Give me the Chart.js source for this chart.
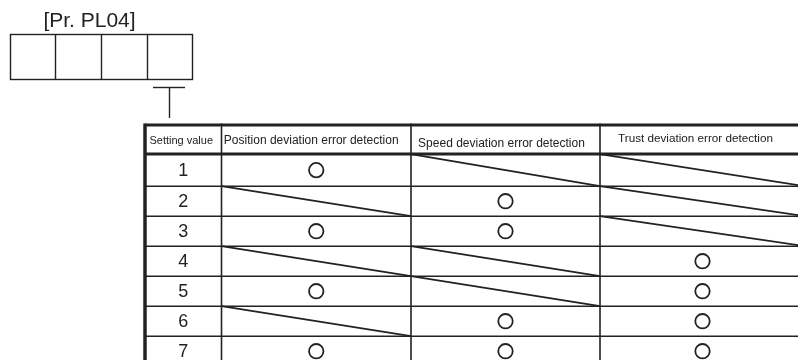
<!DOCTYPE html>
<html>
<head>
<meta charset="utf-8">
<script src="https://cdn.jsdelivr.net/npm/chart.js@4.4.0/dist/chart.umd.min.js"></script>
<style>
html,body{margin:0;padding:0;background:#fff;overflow:hidden}
</style>
</head>
<body>
<canvas id="chart" width="798" height="360"></canvas>
<script>
// data
const paramName = '[Pr. PL04]';
const headers = ['Setting value', 'Position deviation error detection', 'Speed deviation error detection', 'Trust deviation error detection'];
const settingValues = ['1', '2', '3', '4', '5', '6', '7'];
const positionDetect = [1, 0, 1, 0, 1, 0, 1];
const speedDetect = [0, 1, 1, 0, 0, 1, 1];
const trustDetect = [0, 0, 0, 1, 1, 1, 1];

// layout (scale units, not data)
const colEdges = [0, 76.5, 266, 455, 660];
const rowEdges = [0, 0.97, 2.04, 3.04, 4.04, 5.04, 6.04, 7.04, 8.04];
const headerFont = [11, 12, 12, 11.7];
const headerShift = [[-2, 0], [-5, 0], [-4, 3], [-7, -2]];
const FONT = '"Liberation Sans", Arial, sans-serif';
const INK = '#222';

const detectCols = [positionDetect, speedDetect, trustDetect];
const circles = [];
const diagonals = [];
detectCols.forEach((col, c) => {
  col.forEach((v, r) => {
    const x0 = colEdges[c + 1], x1 = colEdges[c + 2];
    const y0 = rowEdges[r + 1], y1 = rowEdges[r + 2];
    if (v) {
      circles.push({x: (x0 + x1) / 2, y: (y0 + y1) / 2});
    } else {
      diagonals.push([{x: x0, y: y0}, {x: x1, y: y1}]);
    }
  });
});

const datasets = diagonals.map(d => ({
  data: d,
  showLine: true,
  borderColor: INK,
  borderWidth: 1.7,
  pointRadius: 0
}));
datasets.push({
  data: circles,
  showLine: false,
  pointRadius: 7.2,
  pointBorderWidth: 1.8,
  pointBorderColor: INK,
  pointBackgroundColor: '#fff'
});

function line(ctx, x0, y0, x1, y1) {
  ctx.beginPath();
  ctx.moveTo(x0, y0);
  ctx.lineTo(x1, y1);
  ctx.stroke();
}

const tablePlugin = {
  id: 'tableFrame',
  beforeDatasetsDraw(chart) {
    const {ctx, chartArea, scales: {x, y}} = chart;
    ctx.save();
    ctx.strokeStyle = INK;
    const left = x.getPixelForValue(0);
    rowEdges.forEach((v, i) => {
      const py = y.getPixelForValue(v);
      ctx.lineWidth = i <= 1 ? 3 : 1.5;
      line(ctx, left, py, chartArea.right, py);
    });
    colEdges.forEach((v, i) => {
      const px = x.getPixelForValue(v);
      ctx.lineWidth = i === 0 ? 3.5 : 1.6;
      line(ctx, px, y.getPixelForValue(0) - 1.5, px, chartArea.bottom);
    });
    ctx.restore();
  },
  afterDraw(chart) {
    const {ctx, scales: {x, y}} = chart;
    ctx.save();
    ctx.fillStyle = INK;
    ctx.textAlign = 'center';
    ctx.textBaseline = 'middle';
    // header cells
    headers.forEach((h, i) => {
      ctx.font = headerFont[i] + 'px ' + FONT;
      const cx = x.getPixelForValue((colEdges[i] + colEdges[i + 1]) / 2) + headerShift[i][0];
      const cy = y.getPixelForValue((rowEdges[0] + rowEdges[1]) / 2) + headerShift[i][1] + 1;
      ctx.fillText(h, cx, cy);
    });
    // setting values
    ctx.font = '18px ' + FONT;
    settingValues.forEach((s, r) => {
      const cx = x.getPixelForValue((colEdges[0] + colEdges[1]) / 2);
      const cy = y.getPixelForValue((rowEdges[r + 1] + rowEdges[r + 2]) / 2) + 1;
      ctx.fillText(s, cx, cy);
    });
    // parameter digit boxes
    ctx.font = '21px ' + FONT;
    ctx.fillText(paramName, 89.5, 21);
    ctx.strokeStyle = INK;
    ctx.lineWidth = 1.4;
    ctx.strokeRect(10.5, 34.5, 182, 45);
    [55.5, 101.5, 147.5].forEach(px => line(ctx, px, 34.5, px, 79.5));
    // connector
    line(ctx, 153, 87.5, 185, 87.5);
    line(ctx, 169.5, 87.5, 169.5, 118);
    ctx.restore();
  }
};

new Chart(document.getElementById('chart'), {
  type: 'scatter',
  data: {datasets},
  options: {
    responsive: false,
    animation: false,
    events: [],
    layout: {autoPadding: false, padding: {left: 145, top: 125, right: 0, bottom: 0}},
    scales: {
      x: {type: 'linear', display: false, min: 0, max: 653},
      y: {type: 'linear', display: false, reverse: true, min: 0, max: 7.833}
    },
    plugins: {legend: {display: false}, tooltip: {enabled: false}}
  },
  plugins: [tablePlugin]
});
</script>
</body>
</html>
